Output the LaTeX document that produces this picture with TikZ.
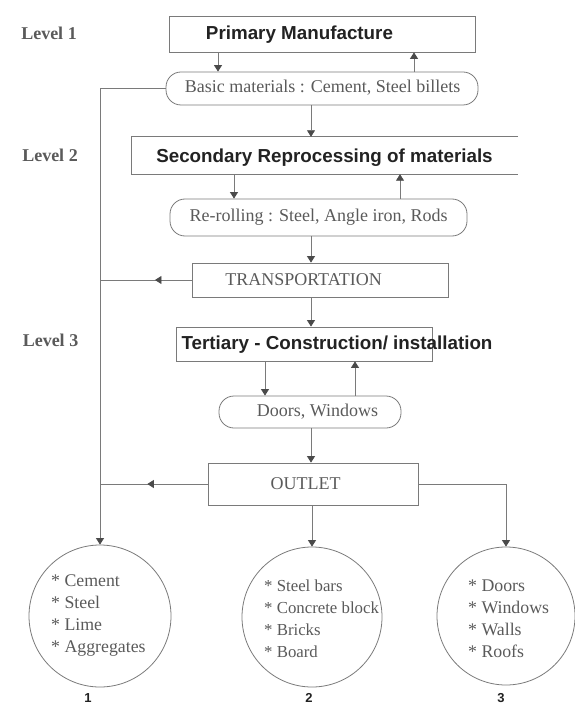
\documentclass[tikz,border=0pt]{standalone}
\usepackage{fontspec}
\setmainfont{Liberation Serif}
\newfontfamily\sansb{Liberation Sans}
\usetikzlibrary{arrows.meta,decorations.markings}
\definecolor{ln}{HTML}{7A7A7A}
\definecolor{tip}{HTML}{4A4A4A}
\definecolor{txt}{HTML}{5A5A5A}
\definecolor{dk}{HTML}{222222}
\begin{document}
\begin{tikzpicture}[x=1pt,y=-1pt,
  lin/.style={draw=ln, line width=0.8pt},
  arr/.style={lin, -{Triangle[width=8pt,length=6.5pt,color=tip]}},
  midarr/.style={lin, postaction={decorate}, decoration={markings,
     mark=at position #1 with {\arrow{Triangle[width=8pt,length=6.5pt,color=tip]}}}},
  boxs/.style={draw=ln, line width=0.8pt, rectangle, inner sep=0pt},
  rbox/.style={boxs, rounded corners=15pt},
  circ/.style={draw=ln, line width=0.8pt, circle, inner sep=0pt},
  boldtxt/.style={font=\sansb\bfseries\fontsize{18.8}{22}\selectfont, text=dk, inner sep=0pt},
  sertxt/.style={font=\fontsize{18}{22}\selectfont, text=txt, inner sep=0pt},
  lvltxt/.style={font=\bfseries\fontsize{18}{22}\selectfont, text=txt, inner sep=0pt},
  numtxt/.style={font=\sansb\bfseries\fontsize{13}{15}\selectfont, text=dk, inner sep=0pt},
  listtxt/.style={font=\fontsize{17.8}{22}\selectfont, text=txt, inner sep=0pt, align=left, anchor=west}
]
\useasboundingbox (0,0) rectangle (574,708);

% level labels
\node[lvltxt] (l1) at (49,33) {Level 1};
\node[lvltxt] (l2) at (50,155) {Level 2};
\node[lvltxt] (l3) at (50.5,340) {Level 3};

% boxes
\node[boxs, minimum width=306pt, minimum height=36pt] (prim) at (322,34) {};
\node[boldtxt] (primt) at (299.5,35) {Primary Manufacture};

\node[rbox, minimum width=312pt, minimum height=33pt] (basic) at (322,88.5) {};
\node[sertxt] (basict) at (322.5,88) {Basic materials : Cement, Steel billets};

\node[rectangle, inner sep=0pt, minimum width=386pt, minimum height=37pt] (sec) at (325,155.5) {};
\draw[lin] (sec.north east) -- (sec.north west) -- (sec.south west) -- (sec.south east);
\node[boldtxt] (sect) at (324.5,158) {Secondary Reprocessing of materials};

\node[rbox, minimum width=297pt, minimum height=37pt] (rer) at (318.5,217.5) {};
\node[sertxt] (rert) at (318.5,217.5) {Re-rolling : Steel, Angle iron, Rods};

\node[boxs, minimum width=256pt, minimum height=34pt] (trans) at (320,280) {};
\node[sertxt] (transt) at (303.5,280) {TRANSPORTATION};

\node[boxs, minimum width=256pt, minimum height=34pt] (tert) at (304,344) {};
\node[boldtxt] (tertt) at (337,345) {Tertiary - Construction/ installation};

\node[rbox, minimum width=182pt, minimum height=32pt] (doors) at (310,412) {};
\node[sertxt] (doorst) at (317.5,412) {Doors, Windows};

\node[boxs, minimum width=210pt, minimum height=42pt] (outlet) at (313,484) {};
\node[sertxt] (outlett) at (305.5,484) {OUTLET};

% circles
\node[circ, minimum size=142pt] (c1) at (100,616) {};
\node[circ, minimum size=140pt] (c2) at (312,617) {};
\node[circ, minimum size=138pt] (c3) at (506,616) {};
\node[listtxt] (c1t) at (51,615.5) {* Cement\\* Steel\\* Lime\\* Aggregates};
\node[listtxt, font=\fontsize{16.8}{22}\selectfont] (c2t) at (264,619) {* Steel bars\\* Concrete block\\* Bricks\\* Board};
\node[listtxt] (c3t) at (468,619) {* Doors\\* Windows\\* Walls\\* Roofs};
\node[numtxt] (n1) at (88,698) {1};
\node[numtxt] (n2) at (309,698) {2};
\node[numtxt] (n3) at (501,698) {3};

% x positions of vertical connectors
\coordinate (va) at (218,0);
\coordinate (vb) at (414,0);
\coordinate (vm) at (311,0);
\coordinate (vc) at (234,0);
\coordinate (vd) at (400,0);
\coordinate (ve) at (265,0);
\coordinate (vf) at (355,0);

% connectors
\draw[arr] (prim.south -| va) -- (basic.north -| va);
\draw[arr] (basic.north -| vb) -- (prim.south -| vb);
\draw[arr] (basic.south -| vm) -- (sec.north -| vm);
\draw[arr] (sec.south -| vc) -- (rer.north -| vc);
\draw[arr] (rer.north -| vd) -- (sec.south -| vd);
\draw[arr] (rer.south -| vm) -- (trans.north -| vm);
\draw[arr] (trans.south -| vm) -- (tert.north -| vm);
\draw[arr] (tert.south -| ve) -- (doors.north -| ve);
\draw[arr] (doors.north -| vf) -- (tert.south -| vf);
\draw[arr] (doors.south -| vm) -- (outlet.north -| vm);
\draw[arr] (outlet.south -| c2.north) -- (c2.north);
\draw[arr] (basic.west) -| (c1.north);
\draw[midarr=0.4] (trans.west) -- (trans.west -| c1.north);
\draw[midarr=0.56] (outlet.west) -- (outlet.west -| c1.north);
\draw[arr] (outlet.east) -| (c3.north);
\end{tikzpicture}
\end{document}
